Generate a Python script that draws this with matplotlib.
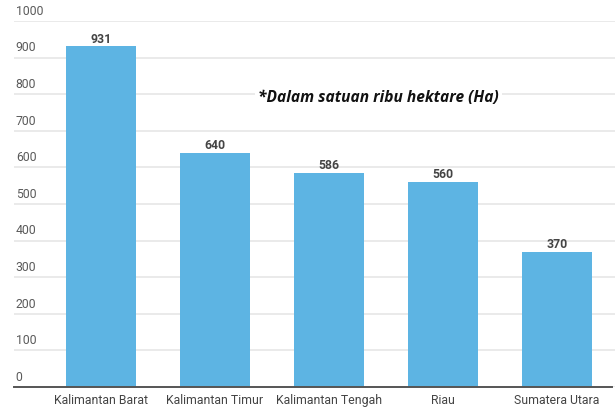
import matplotlib
matplotlib.use("Agg")
import matplotlib.pyplot as plt

categories = ["Kalimantan Barat", "Kalimantan Timur", "Kalimantan Tengah", "Riau", "Sumatera Utara"]
values = [931, 640, 586, 560, 370]
yticks = [0, 100, 200, 300, 400, 500, 600, 700, 800, 900, 1000]
note = "*Dalam satuan ribu hektare (Ha)"

plt.rcParams['font.family'] = ['Roboto', 'DejaVu Sans']

fig = plt.figure(figsize=(6.15, 4.07), dpi=100)
ax = fig.add_axes([14/615, 1 - 387/407, 1 - 14/615, (387 - 21)/407])

x = list(range(len(categories)))
bars = ax.bar(x, values, width=0.615, color="#5db4e3", zorder=2)
ax.set_xlim(-0.763, 4.509)
ax.set_ylim(0, 1000)

ax.set_yticks(yticks)
ax.yaxis.grid(True, color="#e6e6e6", linewidth=1.2, zorder=0)
ax.tick_params(axis='y', length=0, labelleft=False)
for t in yticks:
    ax.text(0.003, t + 9, str(t), transform=ax.get_yaxis_transform(),
            ha="left", va="bottom", fontsize=8.8, color="#5a5a5a")

ax.set_xticks(x)
ax.set_xticklabels(categories, fontsize=8.8, color="#444444")
ax.tick_params(axis='x', length=0, pad=5)

for s in ["top", "right", "left"]:
    ax.spines[s].set_visible(False)
ax.spines["bottom"].set_color("#555555")
ax.spines["bottom"].set_linewidth(1.4)
ax.spines["bottom"].set_bounds(-0.763, 4.48)

for xi, v in zip(x, values):
    ax.text(xi, v + 2, str(v), ha="center", va="bottom", fontsize=8.8,
            fontweight="bold", color="#444444")

ax.text(0.406, 0.79, note, transform=ax.transAxes, ha="left", va="center",
        fontsize=11.2, fontweight="bold", fontstyle="italic", family=["Open Sans", "DejaVu Sans"],
        color="#111111", bbox=dict(facecolor="white", edgecolor="none", pad=2), zorder=5)

fig.savefig("out.png", dpi=100)
